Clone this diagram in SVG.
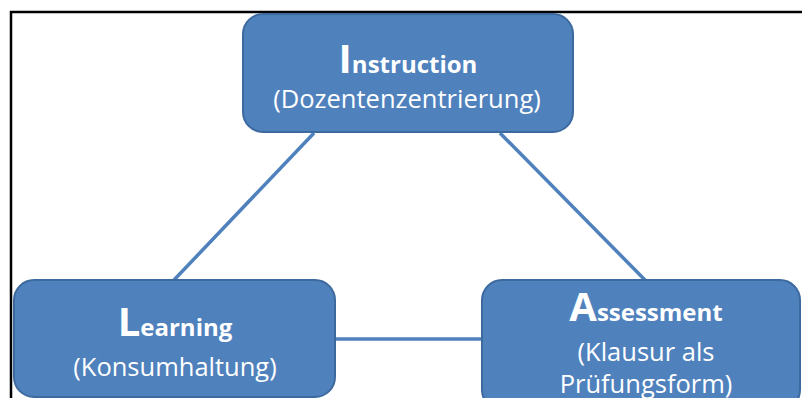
<svg xmlns="http://www.w3.org/2000/svg" width="802" height="398" viewBox="0 0 802 398">
  <style>
    .node { fill: #4f81bd; stroke: #3d6a9e; stroke-width: 2; }
    .edge { stroke: #4f81bd; stroke-width: 3.5; fill: none; }
    .head { font-family: "Open Sans", "Noto Sans", sans-serif; font-weight: bold; fill: #ffffff; font-size: 24px; }
    .cap { font-size: 40px; }
    .sub { font-family: "Open Sans", "Noto Sans", sans-serif; fill: #ffffff; font-size: 25.5px; }
  </style>
  <rect width="802" height="398" fill="#ffffff"/>
  <!-- frame -->
  <path d="M11 398 V12 H802" fill="none" stroke="#000000" stroke-width="2.5"/>

  <g id="connectors">
    <line class="edge" x1="314" y1="133" x2="174" y2="280"/>
    <line class="edge" x1="500" y1="133" x2="645" y2="280"/>
    <line class="edge" x1="335" y1="339" x2="481" y2="339"/>
  </g>

  <g id="instruction">
    <rect class="node" x="243" y="14" width="330" height="118" rx="20"/>
    <text class="head" x="408" y="73" text-anchor="middle"><tspan class="cap">I</tspan>nstruction</text>
    <text class="sub" x="407" y="108" text-anchor="middle">(Dozentenzentrierung)</text>
  </g>

  <g id="learning">
    <rect class="node" x="14" y="280" width="321" height="117" rx="20"/>
    <text class="head" x="175" y="336" text-anchor="middle"><tspan class="cap">L</tspan>earning</text>
    <text class="sub" x="175" y="376" text-anchor="middle">(Konsumhaltung)</text>
  </g>

  <g id="assessment">
    <rect class="node" x="482" y="280" width="318" height="130" rx="20"/>
    <text class="head" x="646" y="321" text-anchor="middle"><tspan class="cap">A</tspan>ssessment</text>
    <text class="sub" x="646" y="361" text-anchor="middle">(Klausur als</text>
    <text class="sub" x="646" y="393" text-anchor="middle">Prüfungsform)</text>
  </g>
</svg>
